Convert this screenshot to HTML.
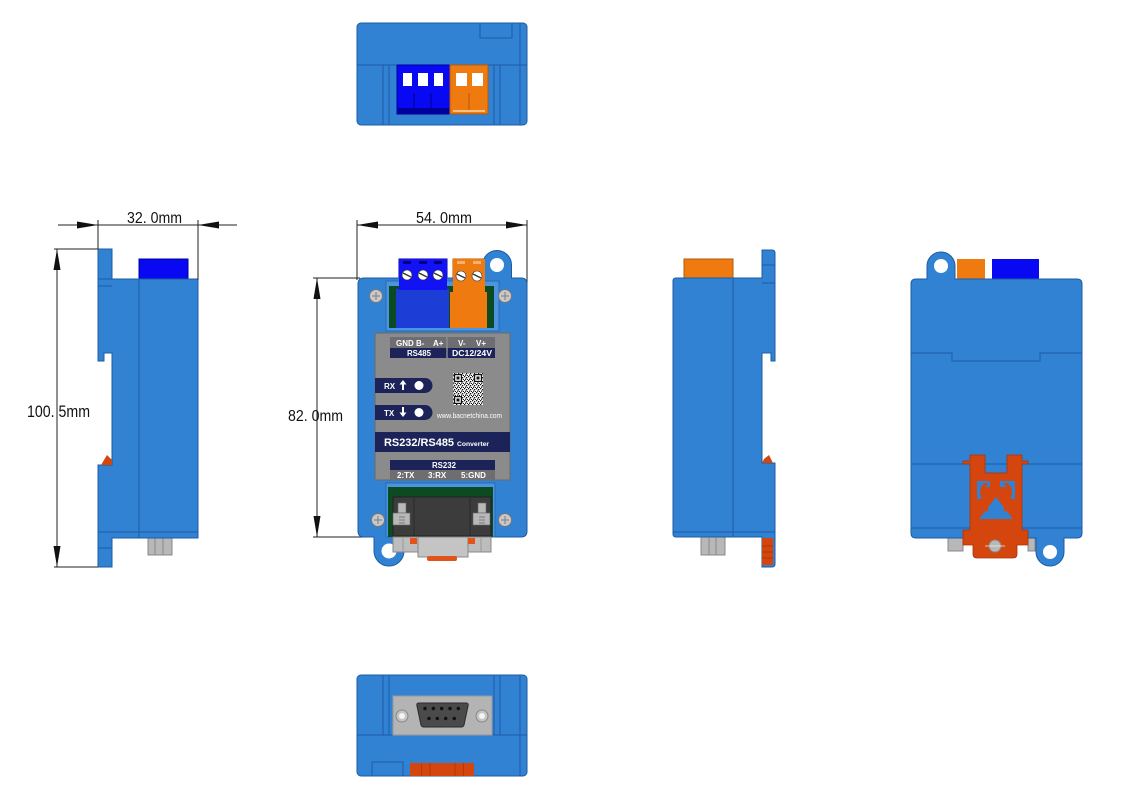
<!DOCTYPE html>
<html><head><meta charset="utf-8"><style>
html,body{margin:0;padding:0;background:#fff;}
svg{display:block;}
text{font-family:"Liberation Sans",sans-serif;}
</style></head><body>
<svg width="1135" height="797" viewBox="0 0 1135 797" xmlns="http://www.w3.org/2000/svg">
<defs>
<pattern id="qr" width="4" height="4" patternUnits="userSpaceOnUse">
<rect width="4" height="4" fill="#fff"/>
<rect x="0" y="0" width="1.3" height="1.3" fill="#111"/>
<rect x="2" y="1" width="1.3" height="1.3" fill="#111"/>
<rect x="1" y="2.5" width="1.3" height="1.3" fill="#111"/>
<rect x="3" y="3" width="1" height="1" fill="#111"/>
</pattern>
</defs>
<rect width="1135" height="797" fill="#fff"/>

<!-- ================= TOP VIEW ================= -->
<g stroke="#1c5ca3" stroke-width="1">
<rect x="357" y="23" width="170" height="102" rx="4" fill="#3282d4"/>
<line x1="357" y1="65" x2="527" y2="65"/>
<line x1="383" y1="65" x2="383" y2="125"/>
<line x1="389" y1="65" x2="389" y2="125"/>
<line x1="494" y1="65" x2="494" y2="125"/>
<line x1="500" y1="65" x2="500" y2="125"/>
<line x1="520" y1="23" x2="520" y2="125"/>
<rect x="480" y="23" width="32" height="15" fill="none"/>
</g>
<rect x="397" y="65" width="53" height="49" fill="#0808f2" stroke="#00009a"/>
<rect x="398" y="108" width="51" height="6" fill="#00009a"/>
<line x1="414" y1="93" x2="414" y2="108" stroke="#00008a"/>
<line x1="431" y1="93" x2="431" y2="108" stroke="#00008a"/>
<rect x="403" y="73" width="9" height="13" fill="#fff"/>
<rect x="418" y="73" width="10" height="13" fill="#fff"/>
<rect x="434" y="73" width="9" height="13" fill="#fff"/>
<rect x="450" y="65" width="38" height="49" fill="#ee7a10" stroke="#b45a08"/>
<rect x="453" y="110" width="32" height="2" fill="#f8c080"/>
<line x1="469" y1="93" x2="469" y2="110" stroke="#b45a08"/>
<rect x="456" y="73" width="11" height="13" fill="#fff"/>
<rect x="472" y="73" width="11" height="13" fill="#fff"/>

<!-- ================= LEFT SIDE VIEW ================= -->
<rect x="139" y="259" width="49" height="20" fill="#0808f2" stroke="#00009a"/>
<rect x="148" y="537" width="24" height="18" fill="#b8b8b8" stroke="#888"/>
<line x1="155" y1="538" x2="155" y2="555" stroke="#888"/>
<line x1="163" y1="538" x2="163" y2="555" stroke="#888"/>
<path d="M98,249 L112,249 L112,279 L198,279 L198,538 L112,538 L112,567 L98,567 L98,465 L112,465 L112,353 L104,353 L104,361 L98,361 Z" fill="#3282d4" stroke="#1c5ca3"/>
<g stroke="#1c5ca3">
<line x1="139" y1="279" x2="139" y2="538"/>
<line x1="98" y1="286" x2="112" y2="286"/>
<line x1="98" y1="279" x2="112" y2="279"/>
<line x1="98" y1="532" x2="198" y2="532"/>
<line x1="98" y1="548" x2="112" y2="548"/>
</g>
<polygon points="101,465 112,465 112,460 107,455" fill="#d4460e"/>

<!-- dims left -->
<g stroke="#222" stroke-width="1" fill="none">
<line x1="58" y1="225" x2="237" y2="225"/>
<line x1="98" y1="220" x2="98" y2="249"/>
<line x1="198" y1="220" x2="198" y2="280"/>
<line x1="57" y1="249" x2="57" y2="567"/>
<line x1="54" y1="249" x2="98" y2="249"/>
<line x1="54" y1="567" x2="98" y2="567"/>
</g>
<g fill="#111">
<polygon points="98,225 77,221.5 77,228.5"/>
<polygon points="198,225 219,221.5 219,228.5"/>
<polygon points="57,249 53.5,270 60.5,270"/>
<polygon points="57,567 53.5,546 60.5,546"/>
</g>
<text x="127" y="223" font-size="16" textLength="55" lengthAdjust="spacingAndGlyphs" fill="#111">32. 0mm</text>
<text x="27" y="417" font-size="17" textLength="63" lengthAdjust="spacingAndGlyphs" fill="#111">100. 5mm</text>

<!-- ================= FRONT VIEW ================= -->
<g stroke="#222" stroke-width="1" fill="none">
<line x1="357" y1="225" x2="527" y2="225"/>
<line x1="357" y1="220" x2="357" y2="280"/>
<line x1="527" y1="220" x2="527" y2="290"/>
<line x1="317" y1="278" x2="317" y2="537"/>
<line x1="313" y1="278" x2="360" y2="278"/>
<line x1="313" y1="537" x2="372" y2="537"/>
</g>
<g fill="#111">
<polygon points="357,225 378,221.5 378,228.5"/>
<polygon points="527,225 506,221.5 506,228.5"/>
<polygon points="317,278 313.5,299 320.5,299"/>
<polygon points="317,537 313.5,516 320.5,516"/>
</g>
<text x="416" y="223" font-size="16" textLength="56" lengthAdjust="spacingAndGlyphs" fill="#111">54. 0mm</text>
<text x="288" y="421" font-size="16" textLength="55" lengthAdjust="spacingAndGlyphs" fill="#111">82. 0mm</text>

<rect x="399" y="259" width="48" height="31" fill="#1212f4" stroke="#00009a"/>
<rect x="453" y="259" width="32" height="33" fill="#ee7a10" stroke="#b45a08"/>

<path d="M364,278 L482.5,278 L482.5,265 A14.5,14.5 0 0 1 511.5,265 L511.5,278 L521,278 Q527,278 527,284 L527,531 Q527,537 521,537 L404,537 L404,551 A15,15 0 0 1 374,551 L374,537 L364,537 Q358,537 358,531 L358,284 Q358,278 364,278 Z" fill="#3282d4" stroke="#1c5ca3"/>
<circle cx="497" cy="265" r="7" fill="#fff"/>
<circle cx="389" cy="551" r="7.5" fill="#fff"/>

<rect x="386" y="281" width="113" height="50" fill="#4a94e0" stroke="#2a6ab5"/>
<rect x="389" y="286" width="105" height="42" fill="#0c4a22"/>
<rect x="396" y="289" width="53" height="39" fill="#1c3ed6"/>
<rect x="399" y="259" width="48" height="31" fill="#1212f4"/>
<rect x="450" y="292" width="37" height="36" fill="#ee7a10"/>
<rect x="453" y="259" width="32" height="33" fill="#ee7a10"/>
<g fill="#00008a">
<rect x="403" y="261" width="8" height="3"/><rect x="419" y="261" width="8" height="3"/><rect x="434" y="261" width="8" height="3"/>
</g>
<g fill="#f6b070">
<rect x="457" y="261" width="8" height="3"/><rect x="473" y="261" width="8" height="3"/>
</g>
<g fill="#fff" stroke="#333" stroke-width="0.6">
<circle cx="407" cy="275" r="5"/><circle cx="423" cy="275" r="5"/><circle cx="438" cy="275" r="5"/>
<circle cx="461" cy="276" r="5"/><circle cx="477" cy="276" r="5"/>
</g>
<g stroke="#333" stroke-width="1.4">
<line x1="403" y1="273" x2="411" y2="277"/><line x1="419" y1="273" x2="427" y2="277"/><line x1="434" y1="273" x2="442" y2="277"/>
<line x1="457" y1="274" x2="465" y2="278"/><line x1="473" y1="274" x2="481" y2="278"/>
</g>

<g>
<circle cx="376" cy="296" r="6.5" fill="#c8c8c8" stroke="#777"/>
<circle cx="505" cy="296" r="6.5" fill="#c8c8c8" stroke="#777"/>
<circle cx="378" cy="520" r="6.5" fill="#c8c8c8" stroke="#777"/>
<circle cx="505" cy="520" r="6.5" fill="#c8c8c8" stroke="#777"/>
<g stroke="#888" stroke-width="1.2">
<line x1="372" y1="296" x2="380" y2="296"/><line x1="376" y1="292" x2="376" y2="300"/>
<line x1="501" y1="296" x2="509" y2="296"/><line x1="505" y1="292" x2="505" y2="300"/>
<line x1="374" y1="520" x2="382" y2="520"/><line x1="378" y1="516" x2="378" y2="524"/>
<line x1="501" y1="520" x2="509" y2="520"/><line x1="505" y1="516" x2="505" y2="524"/>
</g>
</g>

<!-- label panel -->
<rect x="375" y="333" width="135" height="147" fill="#8b8b8b" stroke="#6a6a6a"/>
<rect x="390" y="337" width="105" height="11" fill="#6e6e72"/>
<rect x="390" y="348" width="105" height="10" fill="#1c2358"/>
<line x1="447" y1="337" x2="447" y2="358" stroke="#8b8b8b" stroke-width="1.5"/>
<g fill="#fff" font-weight="bold" font-size="8">
<text x="396" y="346">GND</text>
<text x="416" y="346">B-</text>
<text x="433" y="346">A+</text>
<text x="458" y="346">V-</text>
<text x="476" y="346">V+</text>
<text x="407" y="356" textLength="24" lengthAdjust="spacingAndGlyphs">RS485</text>
<text x="452" y="356" textLength="40" lengthAdjust="spacingAndGlyphs">DC12/24V</text>
</g>
<path d="M375,378 L425,378 A7.5,7.5 0 0 1 425,393 L375,393 Z" fill="#1c2358"/>
<path d="M375,405 L425,405 A7.5,7.5 0 0 1 425,420 L375,420 Z" fill="#1c2358"/>
<g fill="#fff" font-weight="bold" font-size="8">
<text x="384" y="389">RX</text>
<text x="384" y="416">TX</text>
</g>
<g fill="#fff">
<polygon points="403,380 399.5,384.5 402,384.5 402,390 404,390 404,384.5 406.5,384.5"/>
<polygon points="403,417 399.5,412.5 402,412.5 402,407 404,407 404,412.5 406.5,412.5"/>
<circle cx="419" cy="385.5" r="4.5"/>
<circle cx="419" cy="412.5" r="4.5"/>
</g>
<rect x="453" y="373" width="30" height="32" fill="url(#qr)"/>
<g fill="#111">
<rect x="454" y="374" width="8" height="8"/><rect x="474" y="374" width="8" height="8"/><rect x="454" y="396" width="8" height="8"/>
</g>
<g fill="#fff">
<rect x="455.2" y="375.2" width="5.6" height="5.6"/><rect x="475.2" y="375.2" width="5.6" height="5.6"/><rect x="455.2" y="397.2" width="5.6" height="5.6"/>
</g>
<g fill="#111">
<rect x="456.5" y="376.5" width="3" height="3"/><rect x="476.5" y="376.5" width="3" height="3"/><rect x="456.5" y="398.5" width="3" height="3"/>
</g>
<text x="437" y="418" font-size="7.5" fill="#fff" textLength="65" lengthAdjust="spacingAndGlyphs">www.bacnetchina.com</text>
<rect x="375" y="432" width="135" height="20" fill="#1c2358"/>
<text x="384" y="446" font-size="11" font-weight="bold" fill="#fff" textLength="70" lengthAdjust="spacingAndGlyphs">RS232/RS485</text>
<text x="457" y="446" font-size="6.5" font-weight="bold" fill="#fff" textLength="32" lengthAdjust="spacingAndGlyphs">Converter</text>
<rect x="390" y="460" width="105" height="10" fill="#1c2358"/>
<rect x="390" y="470" width="105" height="10" fill="#6e6e72"/>
<g fill="#fff" font-weight="bold" font-size="8">
<text x="432" y="468" textLength="24" lengthAdjust="spacingAndGlyphs">RS232</text>
<text x="397" y="478">2:TX</text>
<text x="428" y="478">3:RX</text>
<text x="461" y="478">5:GND</text>
</g>

<!-- DB9 area -->
<rect x="386" y="483" width="109" height="54" fill="#4a94e0" stroke="#2a6ab5"/>
<rect x="388" y="487" width="105" height="50" fill="#0c4a22"/>
<rect x="393" y="497" width="98" height="39" fill="#3c3c3c" stroke="#222"/>
<line x1="414" y1="497" x2="414" y2="536" stroke="#2a2a2a"/>
<line x1="470" y1="497" x2="470" y2="536" stroke="#2a2a2a"/>
<g fill="#b8b8b8" stroke="#666" stroke-width="0.6">
<rect x="398" y="503" width="8" height="10"/><rect x="393" y="513" width="17" height="12"/>
<rect x="478" y="503" width="8" height="10"/><rect x="473" y="513" width="17" height="12"/>
</g>
<g stroke="#555" stroke-width="0.6">
<line x1="399" y1="517" x2="405" y2="517"/><line x1="399" y1="520" x2="405" y2="520"/><line x1="399" y1="523" x2="405" y2="523"/>
<line x1="479" y1="517" x2="485" y2="517"/><line x1="479" y1="520" x2="485" y2="520"/><line x1="479" y1="523" x2="485" y2="523"/>
</g>
<rect x="393" y="537" width="98" height="15" fill="#bdbdbd" stroke="#888"/>
<rect x="418" y="537" width="50" height="20" fill="#c4c4c4" stroke="#888"/>
<line x1="403" y1="537" x2="403" y2="552" stroke="#999"/>
<line x1="481" y1="537" x2="481" y2="552" stroke="#999"/>
<rect x="410" y="538" width="7" height="6" fill="#e0541a"/>
<rect x="468" y="538" width="7" height="6" fill="#e0541a"/>
<rect x="427" y="556" width="30" height="5" rx="2" fill="#e0541a"/>

<!-- ================= RIGHT SIDE VIEW ================= -->
<rect x="684" y="259" width="49" height="19" fill="#ee7a10" stroke="#b45a08"/>
<rect x="701" y="537" width="24" height="18" fill="#b8b8b8" stroke="#888"/>
<line x1="709" y1="538" x2="709" y2="555" stroke="#888"/>
<line x1="716" y1="538" x2="716" y2="555" stroke="#888"/>
<path d="M762,250 L772,250 Q775,250 775,253 L775,361 L771,361 L771,353 L762,353 L762,463 L775,463 L775,564 Q775,567 772,567 L762,567 L762,537 L676,537 Q673,537 673,534 L673,281 Q673,278 676,278 L762,278 Z" fill="#3282d4" stroke="#1c5ca3"/>
<g stroke="#1c5ca3">
<line x1="733" y1="278" x2="733" y2="537"/>
<line x1="762" y1="265" x2="775" y2="265"/>
<line x1="762" y1="283" x2="775" y2="283"/>
<line x1="673" y1="532" x2="775" y2="532"/>
</g>
<polygon points="762,463 773,463 769,455 764,459" fill="#d4460e"/>
<rect x="762" y="538" width="11" height="27" fill="#d4460e"/>
<g stroke="#9a3008" stroke-width="0.7">
<line x1="762" y1="546" x2="773" y2="546"/><line x1="762" y1="552" x2="773" y2="552"/><line x1="762" y1="558" x2="773" y2="558"/>
</g>

<!-- ================= BACK VIEW ================= -->
<rect x="957" y="259" width="28" height="20" fill="#ee7a10"/>
<rect x="992" y="259" width="47" height="20" fill="#0808f2"/>
<rect x="948" y="537" width="15" height="14" fill="#b8b8b8" stroke="#888"/>
<rect x="1028" y="537" width="7" height="14" fill="#b8b8b8" stroke="#888"/>
<path d="M916,279 L927,279 L927,266 A14,14 0 0 1 955,266 L955,279 L1077,279 Q1082,279 1082,284 L1082,533 Q1082,538 1077,538 L1064,538 L1064,552 A14,14 0 0 1 1036,552 L1036,538 L916,538 Q911,538 911,533 L911,284 Q911,279 916,279 Z" fill="#3282d4" stroke="#1c5ca3"/>
<circle cx="941" cy="266" r="7" fill="#fff"/>
<circle cx="1050" cy="552" r="7" fill="#fff"/>
<g stroke="#1c5ca3" fill="none">
<polyline points="911,353 952,353 952,361 1040,361 1040,353 1082,353"/>
<line x1="911" y1="464" x2="1082" y2="464"/>
<line x1="911" y1="528" x2="1082" y2="528"/>
</g>
<!-- DIN clip -->
<path d="M970,455 L985,455 L985,473 L1007,473 L1007,455 L1022,455 L1022,461 L1028,461 L1028,464 L1022,464 L1022,530 L1028,530 L1028,545 L1017,545 L1017,554 Q1017,558 1013,558 L977,558 Q973,558 973,554 L973,545 L963,545 L963,530 L970,530 L970,464 L963,464 L963,461 L970,461 Z" fill="#d4460e" stroke="#a8350a" stroke-width="0.8"/>
<rect x="977" y="481" width="38" height="6" fill="#3282d4"/>
<rect x="977" y="481" width="4" height="18" fill="#3282d4"/>
<rect x="1011" y="481" width="4" height="18" fill="#3282d4"/>
<polygon points="996,497 979,519 1013,519" fill="#3282d4"/>
<rect x="990" y="481" width="10" height="14" fill="#d4460e"/>
<g stroke="#d4460e" stroke-width="3" fill="none" stroke-linecap="round">
<path d="M986,484 Q980,488 982,494 L987,510"/>
<path d="M1006,484 Q1012,488 1010,494 L1005,510"/>
</g>
<circle cx="995" cy="546" r="6" fill="#b8b8b8" stroke="#888"/>
<line x1="985" y1="546" x2="1005" y2="546" stroke="#eee" stroke-width="0.8"/>

<!-- ================= BOTTOM VIEW ================= -->
<g stroke="#1c5ca3" stroke-width="1">
<rect x="357" y="675" width="170" height="101" rx="4" fill="#3282d4"/>
<line x1="357" y1="735" x2="527" y2="735"/>
<line x1="383" y1="675" x2="383" y2="735"/>
<line x1="389" y1="675" x2="389" y2="735"/>
<line x1="494" y1="675" x2="494" y2="735"/>
<line x1="500" y1="675" x2="500" y2="735"/>
<line x1="520" y1="675" x2="520" y2="776"/>
<rect x="372" y="762" width="31" height="14" fill="none"/>
</g>
<rect x="393" y="696" width="99" height="39" fill="#b4b4b4" stroke="#999"/>
<path d="M419,703 L466,703 Q469,703 468,706 L464,725 Q463.5,727 461,727 L424,727 Q421.5,727 421,725 L417,706 Q416,703 419,703 Z" fill="#4a4a4a" stroke="#2a2a2a"/>
<g fill="#111">
<circle cx="425" cy="708.5" r="1.7"/><circle cx="433.3" cy="708.5" r="1.7"/><circle cx="441.7" cy="708.5" r="1.7"/><circle cx="450" cy="708.5" r="1.7"/><circle cx="458.3" cy="708.5" r="1.7"/>
<circle cx="429" cy="718.5" r="1.7"/><circle cx="437.3" cy="718.5" r="1.7"/><circle cx="445.7" cy="718.5" r="1.7"/><circle cx="454.3" cy="718.5" r="1.7"/>
</g>
<circle cx="402" cy="716" r="6" fill="#c4c4c4" stroke="#888"/>
<circle cx="402" cy="716" r="3" fill="#f4f4f4"/>
<circle cx="482" cy="716" r="6" fill="#c4c4c4" stroke="#888"/>
<circle cx="482" cy="716" r="3" fill="#f4f4f4"/>
<rect x="410" y="763" width="64" height="13" fill="#d4460e"/>
<g stroke="#a8350a" stroke-width="0.8">
<line x1="421.7" y1="763" x2="421.7" y2="776"/><line x1="430" y1="763" x2="430" y2="776"/>
<line x1="455" y1="763" x2="455" y2="776"/><line x1="463.3" y1="763" x2="463.3" y2="776"/>
</g>
</svg>
</body></html>
